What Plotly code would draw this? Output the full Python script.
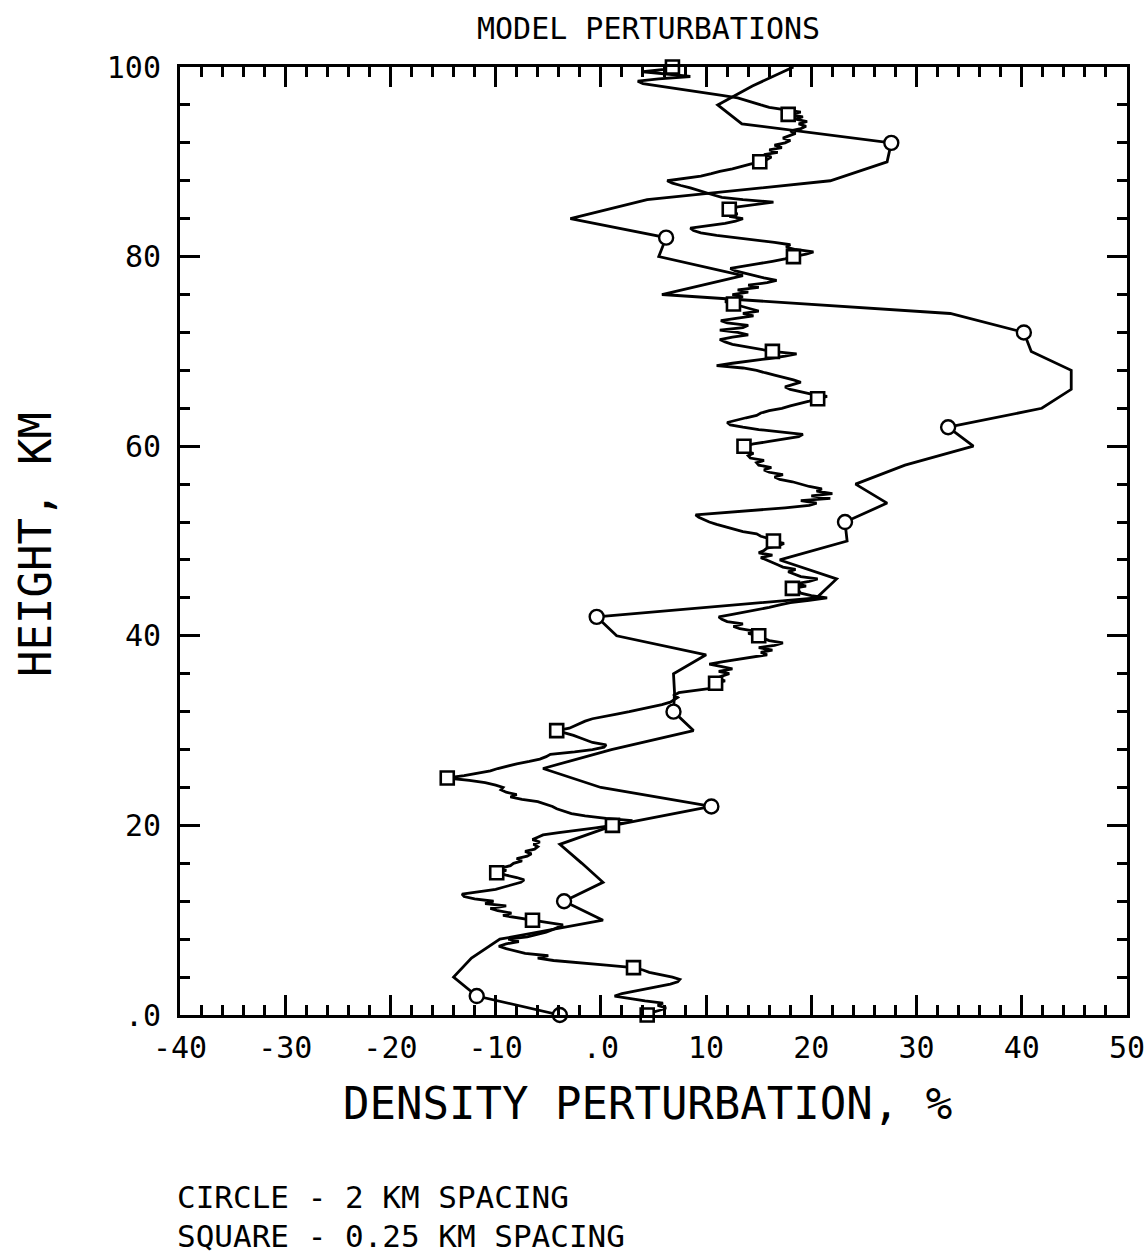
import plotly.graph_objects as go

# ---- data -------------------------------------------------------------
# Coarse model: density perturbation (%) sampled every 2 km, 0..100 km
COARSE_STEP_KM = 2.0
coarse_pert = [
    -3.9, -11.8, -14.0, -12.3, -9.6, 0.2, -3.5, 0.2, -1.8, -3.9,
    1.2, 10.5, 0.0, -5.5, 1.0, 8.8, 6.9, 7.0, 6.9, 10.0,
    1.5, -0.4, 20.5, 22.4, 17.0, 23.4, 23.2, 27.2, 24.2, 28.9,
    35.4, 33.0, 41.9, 44.7, 44.7, 40.9, 40.2, 33.2, 5.8, 13.5,
    5.5, 6.2, -2.9, 4.4, 21.8, 27.2, 27.6, 13.4, 11.1, 14.4,
    18.3,
]

# Fine model: density perturbation (%) sampled every 0.25 km, 0..100 km
FINE_STEP_KM = 0.25
fine_pert = [
    # 0 - 5 km
    4.4, 4.8, 5.6, 6.2, 5.4, 5.9, 4.2, 2.8, 1.3, 2.0, 3.2, 4.3, 5.5, 6.6, 7.3, 7.5, 6.8, 5.8, 4.6, 4.0,
    # 5 - 10 km
    3.1, 0.5, -2.0, -4.5, -6.0, -5.0, -7.2, -8.2, -9.0, -9.7, -9.0, -7.8, -8.8, -7.0, -6.0, -5.2, -4.6, -4.0, -3.6, -5.0,
    # 10 - 15 km
    -6.5, -8.0, -9.3, -8.5, -9.8, -10.5, -9.0, -11.0, -10.2, -12.0, -13.0, -13.2, -11.5, -10.0, -9.2, -8.5, -7.6, -7.3, -8.0, -9.0,
    # 15 - 20 km
    -9.9, -9.0, -9.5, -8.6, -8.3, -7.5, -8.0, -7.0, -6.6, -7.2, -6.3, -6.0, -6.4, -5.8, -6.5, -6.0, -5.5, -4.0, -2.0, -0.5,
    # 20 - 25 km
    1.1, 2.2, 3.0, 0.5, -1.5, -2.8, -3.5, -4.2, -4.6, -5.3, -6.0, -7.5, -8.6, -8.0, -9.0, -9.5, -9.3, -10.0, -11.0, -12.5,
    # 25 - 30 km
    -14.6, -13.0, -11.8, -10.5, -9.8, -9.0, -8.0, -6.8, -5.8, -5.2, -4.8, -2.5, -0.8, 0.3, 0.5, -0.8, -1.5, -2.0, -2.6, -3.5,
    # 30 - 35 km
    -4.2, -3.0, -2.5, -2.0, -1.5, -0.8, 0.2, 1.5, 2.7, 3.8, 4.8, 5.8, 6.6, 6.9, 7.3, 7.0, 7.4, 9.0, 10.8, 11.5,
    # 35 - 40 km
    10.9, 11.8, 11.0, 11.5, 12.2, 11.2, 12.5, 11.5, 10.3, 11.5, 13.0, 14.5, 15.8, 15.2, 16.3, 15.0, 16.5, 17.3, 16.0, 15.4,
    # 40 - 45 km
    15.0, 14.0, 14.6, 13.2, 12.6, 13.5, 12.0, 11.5, 11.2, 12.5, 13.8, 15.0, 16.0, 17.0, 18.0, 19.8, 21.5, 20.0, 19.0, 18.8,
    # 45 - 50 km
    18.2, 19.5, 18.6, 19.8, 20.6, 19.0, 18.3, 17.8, 18.5, 17.3, 16.8, 16.2, 15.8, 15.2, 16.3, 15.0, 15.5, 15.8, 16.9, 17.4,
    # 50 - 55 km
    16.4, 16.0, 15.2, 14.8, 13.5, 12.6, 11.7, 11.0, 10.3, 9.8, 9.3, 9.0, 12.0, 15.0, 17.5, 19.8, 20.5, 19.0, 21.8, 20.0,
    # 55 - 60 km
    22.0, 20.5, 21.0, 19.8, 19.0, 18.2, 17.0, 16.5, 17.3, 16.0, 15.5, 16.2, 15.0, 14.8, 15.5, 14.2, 14.0, 14.5, 13.4, 13.2,
    # 60 - 65 km
    13.6, 14.5, 16.0, 17.5, 18.8, 19.2, 17.0, 15.0, 13.5, 12.3, 12.0, 12.8, 13.8, 14.8, 15.2, 16.0, 17.2, 18.0, 19.0, 19.8,
    # 65 - 70 km
    20.6, 21.5, 20.0, 19.0, 18.0, 17.5, 18.2, 19.0, 18.3, 17.5, 16.5, 15.6, 14.8, 13.5, 11.0, 12.5, 14.5, 16.0, 17.5, 18.6,
    # 70 - 75 km
    16.3, 15.0, 13.5, 12.5, 11.8, 11.3, 12.5, 14.0, 13.0, 11.3, 13.5, 14.0, 12.0, 11.4, 13.0, 14.5, 13.5, 15.0, 14.2, 13.5,
    # 75 - 80 km
    12.6, 11.8, 12.5, 13.5, 12.5, 14.0, 13.0, 15.0, 14.0, 15.8, 16.7, 15.5, 14.5, 13.5, 12.8, 12.3, 13.5, 15.0, 16.3, 17.5,
    # 80 - 85 km
    18.3, 19.5, 20.2, 18.5, 17.6, 18.0, 16.5, 14.5, 12.5, 11.0, 9.5, 8.8, 8.5, 10.0, 11.8, 12.8, 13.5, 12.2, 13.0, 12.0,
    # 85 - 90 km
    12.2, 13.0, 14.5, 16.4, 13.5, 11.5, 10.7, 10.0, 9.2, 8.5, 7.6, 6.8, 6.3, 8.0, 9.5, 10.5, 11.3, 12.5, 13.5, 14.2,
    # 90 - 95 km
    15.1, 15.8, 16.2, 15.5, 16.8, 16.0, 17.2, 16.5, 17.5, 18.0, 17.3, 18.0, 18.5, 18.0, 19.0, 19.5, 18.8, 19.6, 18.5, 19.2,
    # 95 - 100 km
    17.8, 19.0, 17.5, 16.0, 15.2, 14.5, 13.8, 13.0, 11.5, 10.0, 8.5, 7.0, 5.8, 4.0, 3.5, 5.5, 8.5, 6.5, 4.0, 6.0, 6.8,
]

# Heights (km) carrying a symbol on each profile
circle_marks_km = [0, 2, 12, 22, 32, 42, 52, 62, 72, 82, 92]
square_marks_km = [0, 5, 10, 15, 20, 25, 30, 35, 40, 45, 50, 60, 65, 70, 75, 80, 85, 90, 95, 100]

# Axis ticks and labels
x_tick_vals = [-40, -30, -20, -10, 0, 10, 20, 30, 40, 50]
x_tick_text = ["-40", "-30", "-20", "-10", ".0", "10", "20", "30", "40", "50"]
y_tick_vals = [0, 20, 40, 60, 80, 100]
y_tick_text = [".0", "20", "40", "60", "80", "100"]

# ---- figure -----------------------------------------------------------
coarse_km = [i * COARSE_STEP_KM for i in range(len(coarse_pert))]
fine_km = [i * FINE_STEP_KM for i in range(len(fine_pert))]


def pick(values, step, heights):
    return [values[int(round(h / step))] for h in heights]


FONT = "DejaVu Sans Mono, Liberation Mono, monospace"
INK = "black"

fig = go.Figure()

fig.add_trace(go.Scatter(
    x=fine_pert, y=fine_km, mode="lines",
    line=dict(color=INK, width=2.8), hoverinfo="skip", showlegend=False,
))
fig.add_trace(go.Scatter(
    x=coarse_pert, y=coarse_km, mode="lines",
    line=dict(color=INK, width=2.8), hoverinfo="skip", showlegend=False,
))
fig.add_trace(go.Scatter(
    x=pick(fine_pert, FINE_STEP_KM, square_marks_km), y=square_marks_km,
    mode="markers", cliponaxis=False,
    marker=dict(symbol="square", size=13, color="white",
                line=dict(color=INK, width=2.6)),
    hoverinfo="skip", showlegend=False,
))
fig.add_trace(go.Scatter(
    x=pick(coarse_pert, COARSE_STEP_KM, circle_marks_km), y=circle_marks_km,
    mode="markers", cliponaxis=False,
    marker=dict(symbol="circle", size=14, color="white",
                line=dict(color=INK, width=2.4)),
    hoverinfo="skip", showlegend=False,
))

W, H = 1147, 1255
ML, MR, MT, MB = 180, 20, 67, 240
PW, PH = W - ML - MR, H - MT - MB


def px_x(x):
    return (x - ML) / PW


def px_y(y):
    return (H - MB - y) / PH


axis_common = dict(
    showgrid=False, zeroline=False, showline=True, linecolor=INK, linewidth=3,
    mirror="ticks", ticks="inside", tickcolor=INK, tickwidth=2.6, ticklen=20,
    tickfont=dict(family=FONT, size=30, color=INK), automargin=False,
)

fig.update_layout(
    width=W, height=H,
    margin=dict(l=ML, r=MR, t=MT, b=MB, autoexpand=False),
    paper_bgcolor="white", plot_bgcolor="white",
    xaxis=dict(
        range=[-40, 50], tickvals=x_tick_vals, ticktext=x_tick_text,
        minor=dict(dtick=2, ticks="inside", ticklen=10, tickwidth=2.6, tickcolor=INK),
        ticklabelstandoff=4,
        **axis_common,
    ),
    yaxis=dict(
        range=[0, 100], tickvals=y_tick_vals, ticktext=y_tick_text,
        minor=dict(dtick=4, ticks="inside", ticklen=10, tickwidth=2.6, tickcolor=INK),
        ticklabelstandoff=10,
        **axis_common,
    ),
    annotations=[
        dict(text="MODEL PERTURBATIONS", x=px_x(648), y=px_y(28),
             xref="paper", yref="paper", showarrow=False,
             xanchor="center", yanchor="middle",
             font=dict(family=FONT, size=30, color=INK)),
        dict(text="DENSITY PERTURBATION, %", x=px_x(647), y=px_y(1103),
             xref="paper", yref="paper", showarrow=False,
             xanchor="center", yanchor="middle",
             font=dict(family=FONT, size=44, color=INK)),
        dict(text="HEIGHT, KM", x=px_x(35), y=px_y(545), textangle=-90,
             xref="paper", yref="paper", showarrow=False,
             xanchor="center", yanchor="middle",
             font=dict(family=FONT, size=44, color=INK)),
        dict(text="CIRCLE - 2 KM SPACING", x=px_x(175), y=px_y(1197),
             xref="paper", yref="paper", showarrow=False,
             xanchor="left", yanchor="middle",
             font=dict(family=FONT, size=31, color=INK)),
        dict(text="SQUARE - 0.25 KM SPACING", x=px_x(175), y=px_y(1236),
             xref="paper", yref="paper", showarrow=False,
             xanchor="left", yanchor="middle",
             font=dict(family=FONT, size=31, color=INK)),
    ],
)

fig.write_html("out.html")
